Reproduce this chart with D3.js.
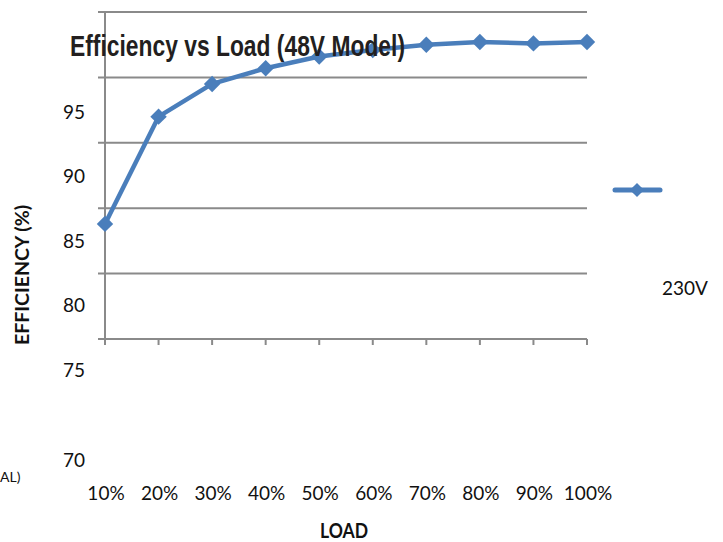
<!DOCTYPE html>
<html><head><meta charset="utf-8">
<script src="https://cdn.jsdelivr.net/npm/d3@7"></script>
<style>body{margin:0;background:#fff}svg{display:block}</style>
</head><body>
<svg id="c" width="723" height="542"></svg>
<script>
// ---- data ----
const categories = ["10%","20%","30%","40%","50%","60%","70%","80%","90%","100%"];
const efficiency230V = [78.8, 87.0, 89.5, 90.7, 91.6, 92.1, 92.5, 92.7, 92.6, 92.7];
const yTickValues = [70, 75, 80, 85, 90, 95];
const seriesName = "230V";
const titleText = "Efficiency vs Load (48V Model)";
const xTitle = "LOAD";
const yTitle = "EFFICIENCY (%)";
const strayText = "AL)";

(function () {
// ---- layout ----
const svg = d3.select("#c");
const pLeft = 105, pRight = 587, pTop = 12, pBottom = 339;
const blue = "#4a7ebb", grid = "#8a8a8a";
const font = "Lato, 'Liberation Sans', sans-serif";
const x = d3.scalePoint().domain(categories).range([pLeft, pRight]);
const y = d3.scaleLinear().domain([70, 95]).range([pBottom, pTop]);
// tick labels in the picture sit displaced below their gridlines
const yLab = d3.scaleLinear().domain([95, 75, 70]).range([112, 370, 460]);

// gridlines
svg.append("g").selectAll("line").data(yTickValues).join("line")
  .attr("x1", pLeft - 7).attr("x2", pRight)
  .attr("y1", d => y(d)).attr("y2", d => y(d))
  .attr("stroke", grid).attr("stroke-width", 2);
// y axis line
svg.append("line").attr("x1", pLeft).attr("x2", pLeft)
  .attr("y1", pTop).attr("y2", pBottom + 6)
  .attr("stroke", grid).attr("stroke-width", 2);
// x ticks
svg.append("g").selectAll("line").data(categories).join("line")
  .attr("x1", d => x(d)).attr("x2", d => x(d))
  .attr("y1", pBottom).attr("y2", pBottom + 6)
  .attr("stroke", grid).attr("stroke-width", 2);

// y tick labels
svg.append("g").selectAll("text").data(yTickValues).join("text")
  .attr("x", 85).attr("y", d => yLab(d)).attr("dy", "0.35em")
  .attr("text-anchor", "end")
  .style("font-family", font).style("font-size", "19px")
  .attr("fill", "#111").text(d => d);

// x tick labels
svg.append("g").selectAll("text").data(categories).join("text")
  .attr("x", d => x(d) + 1).attr("y", 493).attr("dy", "0.35em")
  .attr("text-anchor", "middle")
  .style("font-family", font).style("font-size", "19px")
  .attr("fill", "#111").text(d => d);

// series line
const diamond = d3.symbol().type(d3.symbolSquare).size(135);
svg.append("path").datum(efficiency230V)
  .attr("d", d3.line().x((d, i) => x(categories[i])).y(d => y(d)))
  .attr("fill", "none").attr("stroke", blue).attr("stroke-width", 4.5)
  .attr("stroke-linejoin", "round");
svg.append("g").selectAll("path").data(efficiency230V).join("path")
  .attr("transform", (d, i) => `translate(${x(categories[i])},${y(d)}) rotate(45)`)
  .attr("d", diamond).attr("fill", blue);

// legend
svg.append("line").attr("x1", 615).attr("x2", 660).attr("y1", 190).attr("y2", 190)
  .attr("stroke", blue).attr("stroke-width", 5).attr("stroke-linecap", "round");
svg.append("path").attr("transform", "translate(637,190) rotate(45)")
  .attr("d", d3.symbol().type(d3.symbolSquare).size(100)).attr("fill", blue);
svg.append("text").attr("x", 685).attr("y", 288).attr("dy", "0.35em").attr("text-anchor", "middle")
  .style("font-family", font).style("font-size", "19px")
  .attr("fill", "#111").text(seriesName);

// title
svg.append("text").attr("x", 70).attr("y", 56)
  .attr("textLength", 335).attr("lengthAdjust", "spacingAndGlyphs")
  .style("font-family", "'Liberation Sans Narrow', 'Liberation Sans', Arial, sans-serif")
  .style("font-size", "29px").style("font-weight", "bold")
  .attr("fill", "#231f20").text(titleText);

// axis titles
svg.append("text").attr("x", 344).attr("y", 538).attr("text-anchor", "middle")
  .attr("textLength", 48).attr("lengthAdjust", "spacingAndGlyphs")
  .style("font-family", font)
  .style("font-size", "20px").style("font-weight", "bold")
  .attr("fill", "#111").text(xTitle);
svg.append("text").attr("transform", "translate(29,275) rotate(-90)").attr("text-anchor", "middle")
  .attr("textLength", 140).attr("lengthAdjust", "spacingAndGlyphs")
  .style("font-family", font)
  .style("font-size", "19px").style("font-weight", "bold")
  .attr("fill", "#111").text(yTitle);

// partially visible label at left edge
svg.append("text").attr("x", 0).attr("y", 477).attr("dy", "0.35em").attr("text-anchor", "start")
  .style("font-family", font).style("font-size", "14px")
  .attr("fill", "#111").text(strayText);
})();
</script>
</body></html>
